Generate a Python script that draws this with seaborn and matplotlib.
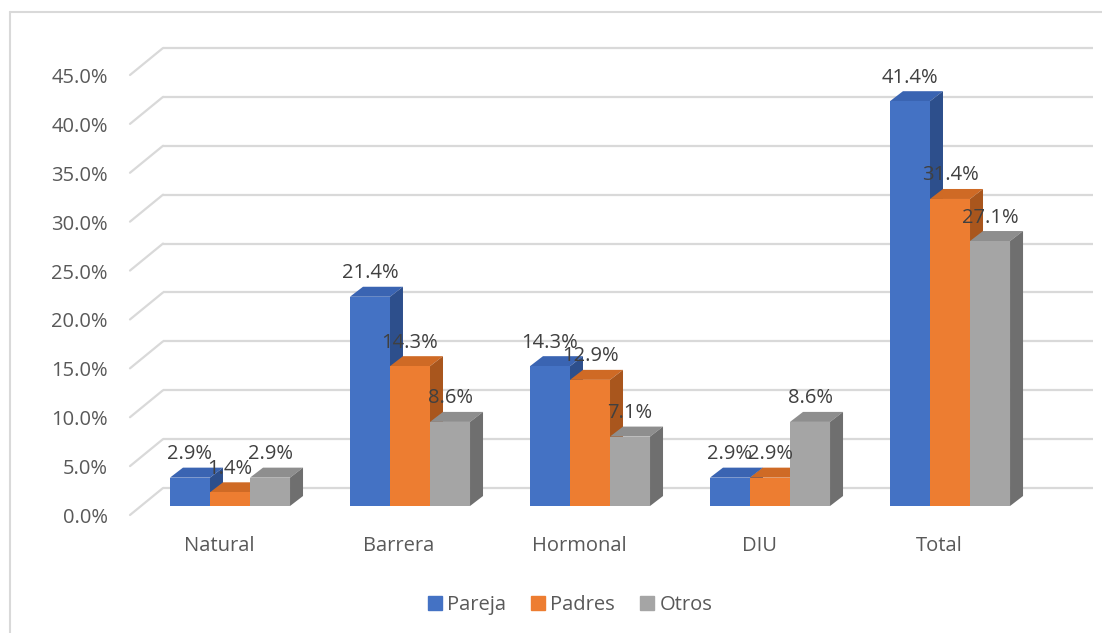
import matplotlib
matplotlib.use("Agg")
import matplotlib.pyplot as plt
from matplotlib.patches import Polygon
from matplotlib.lines import Line2D
from matplotlib.transforms import ScaledTranslation
import seaborn as sns
import pandas as pd

# Data
categories = ["Natural", "Barrera", "Hormonal", "DIU", "Total"]
series = ["Pareja", "Padres", "Otros"]
pareja = [2.9, 21.4, 14.3, 2.9, 41.4]
padres = [1.4, 14.3, 12.9, 2.9, 31.4]
otros = [2.9, 8.6, 7.1, 8.6, 27.1]
y_ticks = [0, 5, 10, 15, 20, 25, 30, 35, 40, 45]

front_colors = ["#4472C4", "#ED7D31", "#A5A5A5"]
top_colors = ["#3A64B2", "#CF6A25", "#8E8E8E"]
side_colors = ["#2D4F8C", "#A9561D", "#6F6F6F"]

df = pd.DataFrame({
    "cat": categories * 3,
    "serie": [s for s in series for _ in categories],
    "val": pareja + padres + otros,
})

sns.set_theme(style="white")
plt.rcParams["font.family"] = ["Open Sans", "DejaVu Sans"]

W, H, DPI = 1102, 633, 100
fig = plt.figure(figsize=(W / DPI, H / DPI), dpi=DPI)
fig.patch.set_facecolor("white")

# axes in the plane of the bar fronts
ax = fig.add_axes([141 / W, 127 / H, 930 / W, 440 / H])
x_lo, x_hi = -0.4944, 4.6722
ax.set_xlim(x_lo, x_hi)
ax.set_ylim(0, 45)
ax.set_facecolor("none")

px_x = 930 / (x_hi - x_lo)
px_y = 440 / 45
# wall depth offsets (front plane / back wall relative to bar fronts)
GX = 11 / px_x
GY = 9 / px_y
# bar depth
DX = 13 / px_x
DY = 10 / px_y

sns.barplot(data=df, x="cat", y="val", hue="serie", order=categories,
            hue_order=series, palette=front_colors, saturation=1,
            width=0.667, ax=ax, legend=False, linewidth=0, zorder=3)
ax.set_xlim(x_lo, x_hi)
ax.set_ylim(0, 45)

# back wall gridlines with their floor diagonals
grid_c = "#D9D9D9"
for v in y_ticks:
    yb = v + 2 * GY
    ax.plot([x_lo + 2 * GX, 4.7944], [yb, yb], color=grid_c, lw=1.6,
            clip_on=False, zorder=1, solid_capstyle="butt")
    ax.plot([x_lo - GX, x_lo + 2 * GX], [v - GY, yb], color=grid_c, lw=1.6,
            clip_on=False, zorder=1)

# 3D faces built on each bar drawn by seaborn
z = 3
bars = []
for si, cont in enumerate(ax.containers):
    for p in cont.patches:
        bars.append((p.get_x(), si, p))
bars.sort(key=lambda t: t[0])
for x0, si, p in bars:
    w = p.get_width()
    h = p.get_height()
    x1 = x0 + w
    top = Polygon([(x0, h), (x1, h), (x1 + DX, h + DY), (x0 + DX, h + DY)],
                  closed=True, facecolor=top_colors[si], edgecolor="none",
                  clip_on=False, zorder=z)
    side = Polygon([(x1, 0), (x1 + DX, DY), (x1 + DX, h + DY), (x1, h)],
                   closed=True, facecolor=side_colors[si], edgecolor="none",
                   clip_on=False, zorder=z)
    ax.add_patch(top)
    ax.add_patch(side)
    p.set_zorder(z + 0.5)
    p.set_clip_on(False)
    z += 1

# value labels
for x0, si, p in bars:
    h = p.get_height()
    ax.text(x0 + p.get_width() / 2, h + 18.5 / px_y, f"{h:.1f}%",
            ha="center", va="baseline", fontsize=14.5, color="#404040",
            zorder=100, clip_on=False)

# axes styling
for s in ax.spines.values():
    s.set_visible(False)
ax.set_xlabel("")
ax.set_ylabel("")
ax.set_yticks(y_ticks)
ax.set_yticklabels([f"{v:.1f}%" for v in y_ticks], fontsize=14.5,
                   color="#595959")
ax.tick_params(axis="y", length=0, pad=24)
ax.tick_params(axis="x", length=0, pad=15, labelsize=14.5,
               labelcolor="#595959")
for lab in ax.get_yticklabels():
    lab.set_transform(lab.get_transform()
                      + ScaledTranslation(0, -9.5 / DPI, fig.dpi_scale_trans))
for lab in ax.get_xticklabels():
    lab.set_transform(lab.get_transform()
                      + ScaledTranslation(-11 / DPI, -9 / DPI, fig.dpi_scale_trans))

# legend
handles = [Line2D([0], [0], marker="s", linestyle="none", markersize=10,
                  markerfacecolor=c, markeredgecolor=c) for c in front_colors]
fig.legend(handles, series, loc="center", bbox_to_anchor=(0.516, 0.044),
           ncol=3, frameon=False, fontsize=14.5, handletextpad=0.1,
           columnspacing=1.1, labelcolor="#595959", handlelength=1.0)

# chart area border
fig.add_artist(Line2D([10 / W, 10 / W], [0, 1 - 12 / H], color="#D9D9D9",
                      lw=1.5, transform=fig.transFigure))
fig.add_artist(Line2D([10 / W, 1], [1 - 12 / H, 1 - 12 / H], color="#D9D9D9",
                      lw=1.5, transform=fig.transFigure))

fig.savefig("out.png", dpi=DPI, facecolor="white")
